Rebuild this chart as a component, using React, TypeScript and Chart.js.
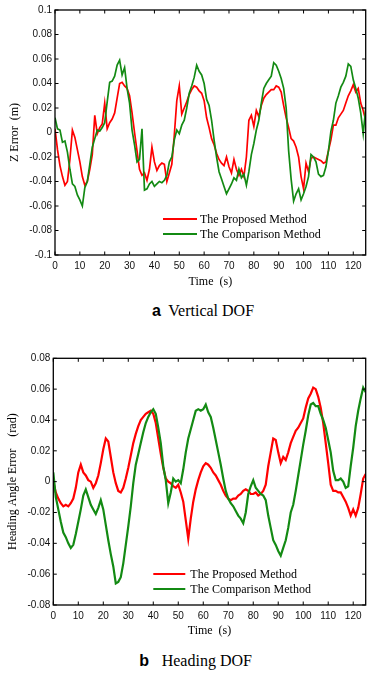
import React, { useEffect, useRef } from "react";
import { Chart, registerables } from "chart.js";

Chart.register(...registerables);

// ---------- data ----------
const timeS = [
  0, 1, 2, 3, 4, 5, 6, 7, 8, 9, 10, 11, 12, 13, 14, 15, 16, 17, 18, 19,
  20, 21, 22, 23, 24, 25, 26, 27, 28, 29, 30, 31, 32, 33, 34, 35, 36, 37, 38, 39,
  40, 41, 42, 43, 44, 45, 46, 47, 48, 49, 50, 51, 52, 53, 54, 55, 56, 57, 58, 59,
  60, 61, 62, 63, 64, 65, 66, 67, 68, 69, 70, 71, 72, 73, 74, 75, 76, 77, 78, 79,
  80, 81, 82, 83, 84, 85, 86, 87, 88, 89, 90, 91, 92, 93, 94, 95, 96, 97, 98, 99,
  100, 101, 102, 103, 104, 105, 106, 107, 108, 109, 110, 111, 112, 113, 114, 115,
  116, 117, 118, 119, 120, 121, 122, 123, 124, 125,
];

const zProposed = [
  0.003, -0.014, -0.027, -0.036, -0.043, -0.040, -0.022, 0.002, -0.004, -0.014,
  -0.024, -0.036, -0.043, -0.040, -0.030, -0.018, 0.014, -0.001, 0.004, 0.007,
  0.024, 0.003, 0.008, 0.011, 0.016, 0.028, 0.040, 0.041, 0.038, 0.036,
  0.030, 0.016, 0.000, -0.015, -0.030, -0.035, -0.033, -0.039, -0.030, -0.012,
  -0.024, -0.031, -0.027, -0.025, -0.026, -0.040, -0.033, -0.026, -0.002, 0.026,
  0.038, 0.015, 0.020, 0.025, 0.031, 0.035, 0.038, 0.037, 0.034, 0.032,
  0.026, 0.012, 0.004, -0.005, -0.010, -0.017, -0.022, -0.025, -0.027, -0.020,
  -0.028, -0.033, -0.022, -0.030, -0.035, -0.030, -0.036, -0.020, 0.010, 0.014,
  0.005, 0.018, 0.013, 0.022, 0.028, 0.031, 0.033, 0.035, 0.035, 0.038,
  0.037, 0.033, 0.022, 0.012, 0.004, -0.005, -0.007, -0.012, -0.020, -0.036,
  -0.046, -0.025, -0.032, -0.021, -0.020, -0.021, -0.022, -0.023, -0.025, -0.024,
  -0.015, -0.006, 0.006, 0.006, 0.012, 0.015, 0.018, 0.024, 0.030, 0.034,
  0.039, 0.033, 0.036, 0.024, 0.018, 0.010,
];

const zComparison = [
  0.012, 0.003, 0.002, -0.008, -0.007, -0.016, -0.030, -0.042, -0.044, -0.051,
  -0.055, -0.060, -0.045, -0.040, -0.026, -0.012, -0.005, 0.002, 0.001, 0.004,
  0.008, 0.025, 0.041, 0.042, 0.046, 0.055, 0.059, 0.047, 0.053, 0.036,
  0.024, 0.002, -0.010, -0.024, -0.022, 0.003, -0.047, -0.046, -0.042, -0.040,
  -0.044, -0.042, -0.040, -0.041, -0.039, -0.035, -0.024, -0.020, -0.006, 0.002,
  -0.001, 0.006, 0.010, 0.020, 0.032, 0.038, 0.045, 0.055, 0.050, 0.047,
  0.040, 0.027, 0.022, 0.010, -0.006, -0.020, -0.032, -0.038, -0.044, -0.050,
  -0.046, -0.042, -0.037, -0.039, -0.030, -0.037, -0.034, -0.043, -0.032, -0.018,
  -0.009, 0.002, 0.010, 0.024, 0.036, 0.040, 0.043, 0.046, 0.057, 0.055,
  0.050, 0.044, 0.036, 0.020, -0.015, -0.038, -0.056, -0.050, -0.046, -0.055,
  -0.050, -0.044, -0.036, -0.018, -0.020, -0.024, -0.034, -0.036, -0.035, -0.028,
  -0.015, 0.001, 0.010, 0.024, 0.030, 0.037, 0.041, 0.046, 0.056, 0.054,
  0.043, 0.036, 0.028, 0.016, -0.001, 0.020,
];

const headingProposed = [
  0.000, -0.007, -0.011, -0.014, -0.016, -0.015, -0.016, -0.014, -0.011, -0.004,
  0.006, 0.011, 0.006, 0.004, 0.001, 0.000, -0.004, -0.001, 0.004, 0.012,
  0.021, 0.028, 0.026, 0.016, 0.006, -0.001, -0.006, -0.007, -0.004, 0.002,
  0.009, 0.017, 0.025, 0.031, 0.036, 0.040, 0.042, 0.044, 0.045, 0.046,
  0.044, 0.038, 0.028, 0.018, 0.009, 0.002, 0.000, -0.001, -0.003, -0.004,
  -0.002, -0.007, -0.013, -0.025, -0.037, -0.024, -0.013, -0.005, 0.001, 0.006,
  0.010, 0.012, 0.011, 0.009, 0.006, 0.004, 0.001, -0.002, -0.006, -0.009,
  -0.011, -0.012, -0.011, -0.011, -0.009, -0.008, -0.006, -0.005, -0.006, -0.008,
  -0.008, -0.007, -0.009, -0.008, -0.006, -0.002, 0.010, 0.019, 0.028, 0.027,
  0.019, 0.012, 0.016, 0.014, 0.019, 0.025, 0.029, 0.033, 0.035, 0.038,
  0.041, 0.048, 0.054, 0.057, 0.061, 0.060, 0.055, 0.048, 0.038, 0.025,
  0.012, -0.002, -0.006, -0.006, -0.007, -0.007, -0.010, -0.013, -0.017, -0.022,
  -0.018, -0.022, -0.017, -0.008, 0.002, 0.005,
];

const headingComparison = [
  0.006, -0.010, -0.018, -0.026, -0.033, -0.036, -0.040, -0.043, -0.041, -0.034,
  -0.026, -0.018, -0.009, -0.005, -0.010, -0.015, -0.018, -0.021, -0.017, -0.012,
  -0.018, -0.028, -0.038, -0.047, -0.055, -0.066, -0.065, -0.062, -0.053, -0.041,
  -0.029, -0.016, -0.001, 0.011, 0.018, 0.025, 0.032, 0.038, 0.042, 0.045,
  0.047, 0.044, 0.035, 0.025, 0.010, 0.001, -0.014, -0.007, 0.002, 0.000,
  0.001, -0.001, 0.008, 0.019, 0.028, 0.034, 0.040, 0.046, 0.047, 0.046,
  0.047, 0.050, 0.045, 0.042, 0.035, 0.027, 0.019, 0.011, 0.002, -0.006,
  -0.011, -0.014, -0.016, -0.019, -0.022, -0.024, -0.027, -0.020, -0.008, -0.003,
  0.001, -0.004, -0.006, -0.008, -0.009, -0.012, -0.022, -0.030, -0.038, -0.041,
  -0.045, -0.048, -0.043, -0.038, -0.030, -0.020, -0.015, -0.006, 0.004, 0.014,
  0.024, 0.033, 0.043, 0.050, 0.051, 0.049, 0.049, 0.044, 0.040, 0.035,
  0.027, 0.019, 0.007, 0.001, 0.001, 0.002, 0.000, -0.004, -0.003, 0.010,
  0.022, 0.036, 0.046, 0.054, 0.061, 0.058,
];

const seriesNames = ["The Proposed Method", "The Comparison Method"];

const timeTicks = [0, 10, 20, 30, 40, 50, 60, 70, 80, 90, 100, 110, 120];
const timeTickLabels = ["0", "10", "20", "30", "40", "50", "60", "70", "80", "90", "100", "110", "120"];

const zTicks = [-0.1, -0.08, -0.06, -0.04, -0.02, 0, 0.02, 0.04, 0.06, 0.08, 0.1];
const zTickLabels = ["-0.1", "-0.08", "-0.06", "-0.04", "-0.02", "0", "0.02", "0.04", "0.06", "0.08", "0.1"];

const headingTicks = [-0.08, -0.06, -0.04, -0.02, 0, 0.02, 0.04, 0.06, 0.08];
const headingTickLabels = ["-0.08", "-0.06", "-0.04", "-0.02", "0", "0.02", "0.04", "0.06", "0.08"];

// ---------- styling ----------
const RED = "#ff0000";
const GREEN = "#138a13";
const SANS = "'Liberation Sans', Arial, sans-serif";
const SERIF = "'Liberation Serif', 'Times New Roman', serif";

const framePlugin = {
  id: "frameTicksLegend",
  afterDatasetsDraw(chart: any, _args: any, opts: any) {
    const { ctx, chartArea: a, scales } = chart;
    ctx.save();
    ctx.strokeStyle = "#000";
    ctx.lineWidth = 1.3;
    ctx.strokeRect(a.left, a.top, a.right - a.left, a.bottom - a.top);
    const L = 3.5;
    ctx.beginPath();
    scales.x.ticks.forEach((t: any) => {
      const px = scales.x.getPixelForValue(t.value);
      ctx.moveTo(px, a.bottom);
      ctx.lineTo(px, a.bottom - L);
      ctx.moveTo(px, a.top);
      ctx.lineTo(px, a.top + L);
    });
    scales.y.ticks.forEach((t: any) => {
      const py = scales.y.getPixelForValue(t.value);
      ctx.moveTo(a.left, py);
      ctx.lineTo(a.left + L, py);
      ctx.moveTo(a.right, py);
      ctx.lineTo(a.right - L, py);
    });
    ctx.lineWidth = 1;
    ctx.stroke();

    // legend inside plot
    const ds = chart.data.datasets;
    const order = [1, 0]; // proposed first, then comparison
    ctx.font = `12px ${SERIF}`;
    ctx.textBaseline = "middle";
    ctx.textAlign = "left";
    order.forEach((di, row) => {
      const y = a.bottom - opts.rowFromBottom[row];
      ctx.beginPath();
      ctx.strokeStyle = ds[di].borderColor;
      ctx.lineWidth = 2;
      ctx.moveTo(a.left + opts.lineX0, y);
      ctx.lineTo(a.left + opts.lineX1, y);
      ctx.stroke();
      ctx.fillStyle = "#000";
      ctx.fillText(ds[di].label, a.left + opts.textX, y + 0.5);
    });
    ctx.restore();
  },
};

function makeConfig(p: any) {
  const toPts = (vals: number[]) => vals.map((v, i) => ({ x: timeS[i], y: v }));
  return {
    type: "line",
    data: {
      datasets: [
        {
          label: seriesNames[1],
          data: toPts(p.comparison),
          borderColor: GREEN,
          borderWidth: p.lineWidth,
          pointRadius: 0,
          tension: 0,
          order: 0,
        },
        {
          label: seriesNames[0],
          data: toPts(p.proposed),
          borderColor: RED,
          borderWidth: p.lineWidth,
          pointRadius: 0,
          tension: 0,
          order: 1,
        },
      ],
    },
    options: {
      animation: false,
      responsive: false,
      events: [],
      layout: { padding: { left: 0, right: 8.3, top: p.padTop, bottom: 0 } },
      plugins: {
        legend: { display: false },
        tooltip: { enabled: false },
        frameTicksLegend: p.legend,
      },
      scales: {
        x: {
          type: "linear",
          min: 0,
          max: 125,
          grid: { display: false, drawTicks: false },
          border: { display: false },
          afterBuildTicks: (s: any) => {
            s.ticks = timeTicks.map((v) => ({ value: v }));
          },
          afterFit: (s: any) => {
            s.height = p.xAxisHeight;
          },
          ticks: {
            autoSkip: false,
            maxRotation: 0,
            padding: 5,
            color: "#111",
            font: { family: SANS, size: 10 },
            callback: (_v: any, i: number) => timeTickLabels[i],
          },
          title: {
            display: true,
            text: "Time  (s)",
            color: "#000",
            font: { family: SERIF, size: 12 },
            padding: { top: 0, bottom: p.xTitlePad },
          },
        },
        y: {
          type: "linear",
          min: p.yTicks[0],
          max: p.yTicks[p.yTicks.length - 1],
          grid: { display: false, drawTicks: false },
          border: { display: false },
          afterBuildTicks: (s: any) => {
            s.ticks = p.yTicks.map((v: number) => ({ value: v }));
          },
          afterFit: (s: any) => {
            s.width = p.yAxisWidth;
          },
          ticks: {
            padding: 3,
            color: "#111",
            font: { family: SANS, size: 10 },
            callback: (_v: any, i: number) => p.yTickLabels[i],
          },
          title: {
            display: true,
            text: p.yTitle,
            color: "#000",
            font: { family: SERIF, size: 12 },
            padding: { top: p.yTitlePad, bottom: 0 },
          },
        },
      },
    },
    plugins: [framePlugin],
  };
}

function ChartCanvas(props: { top: number; height: number; cfg: any }) {
  const ref = useRef<HTMLCanvasElement | null>(null);
  useEffect(() => {
    if (!ref.current) return;
    const chart = new Chart(ref.current, props.cfg);
    return () => chart.destroy();
  }, []);
  return (
    <canvas
      ref={ref}
      width={374}
      height={props.height}
      style={{ position: "absolute", left: 0, top: props.top, width: 374, height: props.height }}
    />
  );
}

const topCfg = makeConfig({
  proposed: zProposed,
  comparison: zComparison,
  yTicks: zTicks,
  yTickLabels: zTickLabels,
  yTitle: "Z Error  (m)",
  padTop: 10,
  xAxisHeight: 45,
  yAxisWidth: 55,
  xTitlePad: 11,
  yTitlePad: 8,
  lineWidth: 1.7,
  legend: { rowFromBottom: [36, 21], lineX0: 108, lineX1: 142, textX: 145 },
});

const bottomCfg = makeConfig({
  proposed: headingProposed,
  comparison: headingComparison,
  yTicks: headingTicks,
  yTickLabels: headingTickLabels,
  yTitle: "Heading Angle Error    (rad)",
  padTop: 28.3,
  xAxisHeight: 45,
  yAxisWidth: 53.3,
  xTitlePad: 12,
  yTitlePad: 6,
  lineWidth: 2.2,
  legend: { rowFromBottom: [31, 16], lineX0: 100, lineX1: 132, textX: 137 },
});

const capSans: React.CSSProperties = {
  position: "absolute",
  fontFamily: SANS,
  fontWeight: "bold",
  fontSize: 16,
  lineHeight: "16px",
  color: "#000",
  whiteSpace: "pre",
};
const capSerif: React.CSSProperties = {
  position: "absolute",
  fontFamily: SERIF,
  fontSize: 16,
  lineHeight: "16px",
  color: "#000",
  whiteSpace: "pre",
};

export default function App() {
  return (
    <div
      style={{
        position: "fixed",
        left: 0,
        top: 0,
        width: 374,
        height: 674,
        background: "#fff",
        overflow: "hidden",
      }}
    >
      <ChartCanvas top={0} height={300} cfg={topCfg} />
      <span style={{ ...capSans, left: 152, top: 303.3 }}>a</span>
      <span style={{ ...capSerif, left: 168.3, top: 303.3 }}>Vertical DOF</span>
      <ChartCanvas top={330} height={320} cfg={bottomCfg} />
      <span style={{ ...capSans, left: 139.3, top: 653.3 }}>b</span>
      <span style={{ ...capSerif, left: 161.7, top: 653.3 }}>Heading DOF</span>
    </div>
  );
}
